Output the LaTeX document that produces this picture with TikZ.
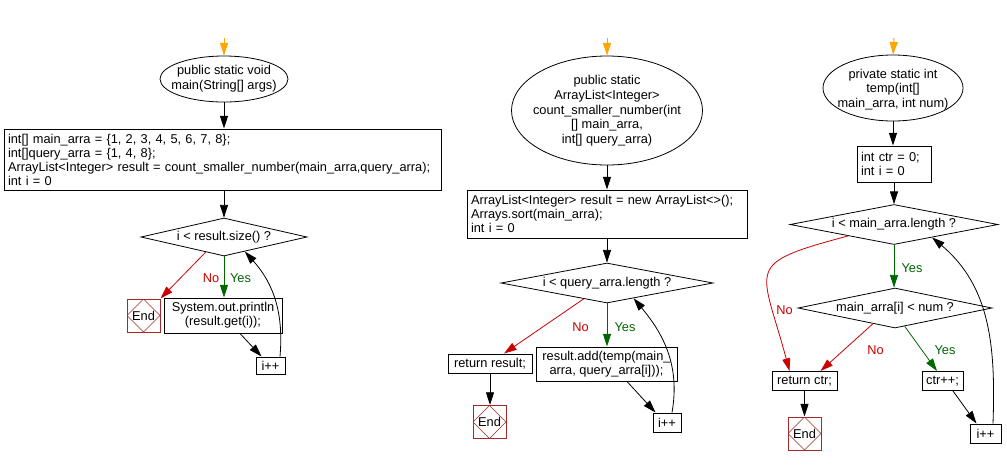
\documentclass[tikz,border=0pt]{standalone}
\usepackage{fontspec}
\setmainfont{Liberation Sans}
\usetikzlibrary{shapes.geometric,arrows.meta,calc}
\definecolor{noRed}{RGB}{204,0,0}
\definecolor{yesGreen}{RGB}{0,102,0}
\definecolor{startOrange}{RGB}{255,165,0}
\definecolor{endRed}{RGB}{165,42,42}
\begin{document}
\begin{tikzpicture}[x=0.75pt,y=-0.75pt,
  font=\fontsize{9.6}{10.5}\selectfont,
  line width=0.6pt,
  arr/.style={-{Triangle[length=9.5pt,width=6pt]}},
  box/.style={draw, inner sep=0pt, inner xsep=3pt, line width=0.75pt},
  codebox/.style={box, align=left},
  cbox/.style={box, align=center},
  oval/.style={draw, ellipse, inner sep=0pt, line width=0.6pt},
  ovaltext/.style={align=center, inner sep=0pt, font=\fontsize{9.6}{11}\selectfont},
  decision/.style={draw, diamond, inner sep=0pt, line width=0.6pt},
  endnode/.style={draw=endRed, minimum width=24.75pt, minimum height=24.75pt, inner sep=0pt, line width=0.75pt,
    path picture={\draw[endRed, line width=0.5pt] (path picture bounding box.north) -- (path picture bounding box.east) -- (path picture bounding box.south) -- (path picture bounding box.west) -- cycle;}},
  startarrow/.style={arr, color=startOrange, line width=0.75pt},
  yesarrow/.style={arr, color=yesGreen},
  noarrow/.style={arr, color=noRed},
  yeslabel/.style={text=yesGreen, inner sep=0pt},
  nolabel/.style={text=noRed, inner sep=0pt}
]
\useasboundingbox (0,0) rectangle (1007,465);
\fill[white] (0,0) rectangle (1007,465);

% ---------------- Panel 1 ----------------
\coordinate (s1) at (224,38);
\node[oval, minimum width=96pt, minimum height=34.5pt] (e1) at (224,79) {};
\node[ovaltext] (e1t) at (e1) {public static void\\main(String[] args)};
\node[codebox, text width=321.75pt, minimum height=45.75pt] (b1) at (222.5,159.5)
  {int[] main\_arra = \{1, 2, 3, 4, 5, 6, 7, 8\};\\int[]query\_arra = \{1, 4, 8\};\\ArrayList<Integer> result = count\_smaller\_number(main\_arra,query\_arra);\\int i = 0};
\node[decision, minimum width=124.5pt, minimum height=28.5pt] (d1) at (224,237) {};
\node[inner sep=0pt] (d1t) at (d1) {i < result.size() ?};
\node[cbox, minimum width=88.5pt, minimum height=26.25pt] (p1) at (223,315.5) {System.out.println\\(result.get(i));};
\node[endnode] (end1) at (143.5,315.5) {End};
\node[cbox, minimum width=21.75pt, minimum height=12.75pt] (ipp1) at (270.5,365.5) {i++};
\node[nolabel] (no1) at (211,278) {No};
\node[yeslabel] (yes1) at (240.5,278) {Yes};

\draw[startarrow] (s1) -- (e1.north);
\draw[arr] (e1.south) -- (e1.south |- b1.north);
\draw[arr] (b1.south -| d1.north) -- (d1.north);
\draw[yesarrow] (d1.south) -- (d1.south |- p1.north);
\draw[noarrow] ($(d1.south)!0.22!(d1.west)$) -- (end1.north east);
\draw[arr] ($(p1.south)+(17,0)$) -- ($(ipp1.north west)+(6,0)$);
\draw[arr] ($(ipp1.north)+(9.5,0)$) to[out=85,in=-48] ($(d1.south)!0.25!(d1.east)$);

% ---------------- Panel 2 ----------------
\coordinate (s2) at (607,38);
\node[oval, minimum width=143.25pt, minimum height=81.75pt] (e2) at (607,110.5) {};
\node[ovaltext] (e2t) at (607,111) {public static\\ArrayList<Integer>\\count\_smaller\_number(int\\{}[] main\_arra,\\int[] query\_arra)};
\node[codebox, text width=204pt, minimum height=36pt] (b2) at (607,214)
  {ArrayList<Integer> result = new ArrayList<>();\\Arrays.sort(main\_arra);\\int i = 0};
\node[decision, minimum width=159pt, minimum height=30pt] (d2) at (607,283) {};
\node[inner sep=0pt] (d2t) at (d2) {i < query\_arra.length ?};
\node[cbox, minimum width=105.75pt, minimum height=25.5pt] (a2) at (606.5,364) {result.add(temp(main\_\\arra, query\_arra[i]));};
\node[cbox, minimum width=63pt, minimum height=14.25pt] (r2) at (490,363.5) {return result;};
\node[endnode] (end2) at (489.5,422) {End};
\node[cbox, minimum width=21pt, minimum height=14.25pt] (ipp2) at (667,422.5) {i++};
\node[nolabel] (no2) at (580.5,327) {No};
\node[yeslabel] (yes2) at (625,327) {Yes};

\draw[startarrow] (s2) -- (e2.north);
\draw[arr] (e2.south) -- (e2.south |- b2.north);
\draw[arr] (b2.south -| d2.north) -- (d2.north);
\draw[yesarrow] (d2.south) -- (d2.south |- a2.north);
\draw[noarrow] ($(d2.south)!0.22!(d2.west)$) -- ($(r2.north)+(14,0)$);
\draw[arr] (r2.south) -- (r2.south |- end2.north);
\draw[arr] ($(a2.south)+(20.5,0)$) -- ($(ipp2.north west)+(3,0)$);
\draw[arr] ($(ipp2.north)+(5,0)$) to[out=80,in=-50] ($(d2.south)!0.25!(d2.east)$);

% ---------------- Panel 3 ----------------
\coordinate (s3) at (894,38);
\node[oval, minimum width=105pt, minimum height=49.5pt] (e3) at (893,88) {};
\node[ovaltext] (e3t) at (893,89.5) {private static int\\temp(int[]\\main\_arra, int num)};
\node[codebox, text width=49.5pt, minimum height=27pt] (b3) at (894,164) {int ctr = 0;\\int i = 0};
\node[decision, minimum width=156pt, minimum height=30pt] (d3) at (894,224.5) {};
\node[inner sep=0pt] (d3t) at (d3) {i < main\_arra.length ?};
\node[decision, minimum width=145.5pt, minimum height=30pt] (d4) at (895,308) {};
\node[inner sep=0pt] (d4t) at (d4) {main\_arra[i] < num ?};
\node[cbox, minimum width=48.75pt, minimum height=14.25pt] (r3) at (804.5,381) {return ctr;};
\node[cbox, minimum width=30.75pt, minimum height=14.25pt] (c3) at (942.5,381) {ctr++;};
\node[endnode] (end3) at (804.5,433.5) {End};
\node[cbox, minimum width=23.25pt, minimum height=14.25pt] (ipp3) at (985.5,433.5) {i++};
\node[yeslabel] (yes3) at (912,268) {Yes};
\node[nolabel] (no3) at (784.5,310) {No};
\node[nolabel] (no4) at (875.5,350) {No};
\node[yeslabel] (yes4) at (945,350) {Yes};

\draw[startarrow] (s3) -- (e3.north);
\draw[arr] (e3.south) -- (e3.south |- b3.north);
\draw[arr] (b3.south -| d3.north) -- (d3.north);
\draw[yesarrow] (d3.south) -- (d3.south |- d4.north);
\draw[noarrow] ($(d3.south)!0.44!(d3.west)$) to[out=195,in=105,looseness=1.9] ($(r3.north west)+(18,0)$);
\draw[noarrow] ($(d4.south)!0.227!(d4.west)$) -- ($(r3.north east)+(-17,0)$);
\draw[yesarrow] ($(d4.south)!0.1!(d4.east)$) -- ($(c3.north)+(-5.5,0)$);
\draw[arr] (r3.south) -- (end3.north);
\draw[arr] ($(c3.south)+(10.5,0)$) -- ($(ipp3.north west)+(7,0)$);
\draw[arr] ($(ipp3.north)+(7.5,0)$) to[out=88,in=-40] ($(d3.south)!0.365!(d3.east)$);
\end{tikzpicture}
\end{document}
